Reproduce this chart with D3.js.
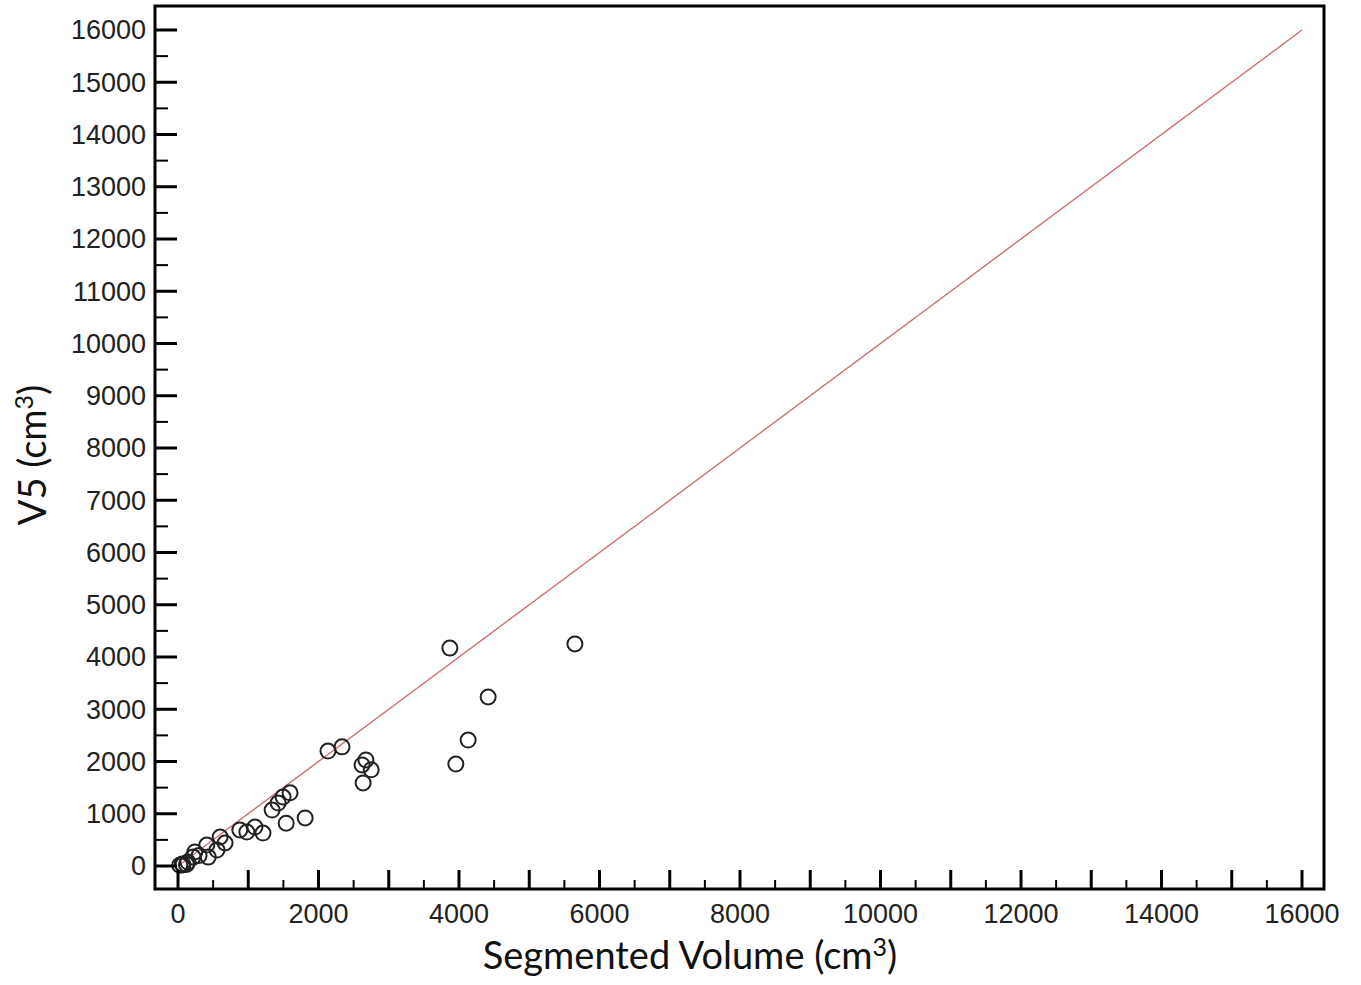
<!DOCTYPE html>
<html>
<head>
<meta charset="utf-8">
<script src="https://cdn.jsdelivr.net/npm/d3@7"></script>
<style>
  body { margin: 0; background: #fff; }
  svg { display: block; }
</style>
</head>
<body>
<svg id="main" width="1361" height="985"></svg>
<script>
// segmented volume (cm3) vs V5 (cm3)
const segVolume = [25, 70, 140, 215, 240, 410, 430, 555, 600, 670, 880, 980, 1095, 1210,
  1340, 1425, 1495, 1595, 1540, 1810, 2135, 2335, 2620, 2675, 2750, 2635,
  3870, 5650, 4415, 4130, 3955, 60, 120, 300];
const v5Volume = [15, 20, 75, 170, 270, 400, 170, 305, 555, 440, 690, 650, 745, 630,
  1070, 1205, 1320, 1400, 820, 920, 2200, 2280, 1935, 2030, 1840, 1590,
  4170, 4250, 3235, 2410, 1950, 40, 30, 200];

const xMajor = d3.range(0, 16001, 1000);
const xMinor = d3.range(500, 16000, 1000);
const xLabels = d3.range(0, 16001, 2000);
const yMajor = d3.range(0, 16001, 1000);
const yMinor = d3.range(500, 16000, 1000);
const identity = [0, 16000];

const svg = d3.select('#main');
const frame = {left: 155, right: 1324, top: 6, bottom: 889};

const x = d3.scaleLinear().domain([0, 16000]).range([178, 1302]);
const y = d3.scaleLinear().domain([0, 16000]).range([866, 30]);

// identity line
svg.append('line')
  .attr('x1', x(identity[0])).attr('y1', y(identity[0]))
  .attr('x2', x(identity[1])).attr('y2', y(identity[1]))
  .attr('stroke', '#cc7273').attr('stroke-width', 1.4);

// points
svg.append('g').selectAll('circle')
  .data(segVolume.map((d, i) => [d, v5Volume[i]]))
  .join('circle')
  .attr('cx', d => x(d[0])).attr('cy', d => y(d[1]))
  .attr('r', 7.5)
  .attr('fill', 'none').attr('stroke', '#222').attr('stroke-width', 2);

// ticks (pointing inward)
const ticks = svg.append('g').attr('stroke', '#000');
ticks.selectAll('.xmaj').data(xMajor).join('line')
  .attr('x1', d => x(d)).attr('x2', d => x(d))
  .attr('y1', frame.bottom).attr('y2', frame.bottom - 19).attr('stroke-width', 3);
ticks.selectAll('.xmin').data(xMinor).join('line')
  .attr('x1', d => x(d)).attr('x2', d => x(d))
  .attr('y1', frame.bottom).attr('y2', frame.bottom - 9).attr('stroke-width', 2);
ticks.selectAll('.ymaj').data(yMajor).join('line')
  .attr('y1', d => y(d)).attr('y2', d => y(d))
  .attr('x1', frame.left).attr('x2', frame.left + 22).attr('stroke-width', 3);
ticks.selectAll('.ymin').data(yMinor).join('line')
  .attr('y1', d => y(d)).attr('y2', d => y(d))
  .attr('x1', frame.left).attr('x2', frame.left + 13).attr('stroke-width', 2);

// frame
svg.append('rect')
  .attr('x', frame.left).attr('y', frame.top)
  .attr('width', frame.right - frame.left).attr('height', frame.bottom - frame.top)
  .attr('fill', 'none').attr('stroke', '#000').attr('stroke-width', 3);

// tick labels
svg.append('g').selectAll('text').data(yMajor).join('text')
  .attr('x', 146).attr('y', d => y(d)).attr('dy', '0.35em')
  .attr('text-anchor', 'end')
  .style('font', '27px "Liberation Sans", Arial, sans-serif')
  .attr('fill', '#222')
  .text(d => d);

svg.append('g').selectAll('text').data(xLabels).join('text')
  .attr('x', d => x(d)).attr('y', 914).attr('dy', '0.35em')
  .attr('text-anchor', 'middle')
  .style('font', '27px "Liberation Sans", Arial, sans-serif')
  .attr('fill', '#222')
  .text(d => d);

// axis titles with superscript 3
function unitTitle(sel, label) {
  sel.style('font', '38px Lato, "Open Sans", sans-serif').attr('fill', '#111');
  sel.append('tspan').text(label + ' (cm');
  sel.append('tspan').attr('dy', -13).style('font-size', '25px').text('3');
  sel.append('tspan').attr('dy', 13).text(')');
}

svg.append('text')
  .attr('x', 690).attr('y', 969)
  .attr('text-anchor', 'middle')
  .call(unitTitle, 'Segmented Volume');

svg.append('text')
  .attr('transform', 'translate(46,455) rotate(-90)')
  .attr('text-anchor', 'middle')
  .call(unitTitle, 'V5');
</script>
</body>
</html>
